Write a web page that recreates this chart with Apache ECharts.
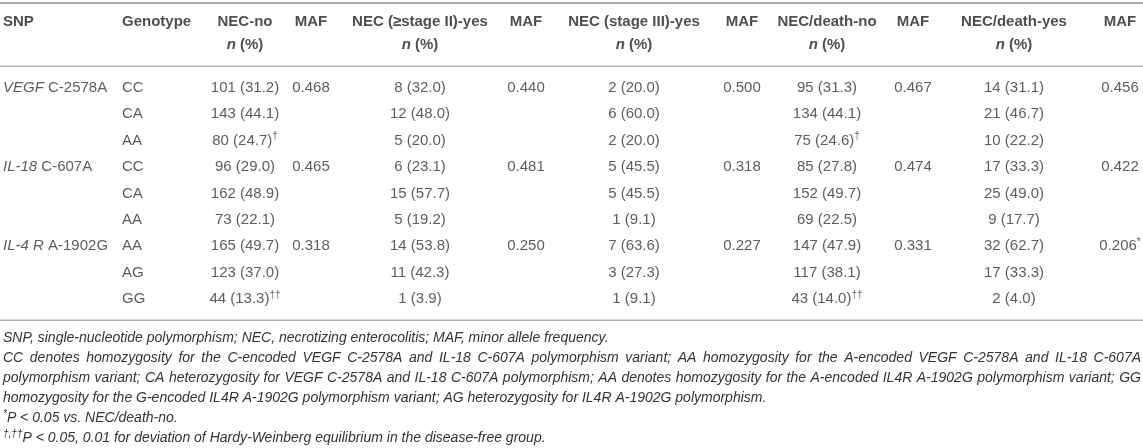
<!DOCTYPE html>
<html>
<head>
<meta charset="utf-8">
<script src="https://cdn.jsdelivr.net/npm/echarts@6/dist/echarts.min.js"></script>
<style>
html, body { margin: 0; padding: 0; background: #fff; }
#main { width: 1143px; height: 448px; }
</style>
</head>
<body>
<div id="main"></div>
<script>
var snpGenes = ['VEGF', 'IL-18', 'IL-4 R'];
var snpVariants = ['C-2578A', 'C-607A', 'A-1902G'];
var genotypes = ['CC', 'CA', 'AA', 'CC', 'CA', 'AA', 'AA', 'AG', 'GG'];

var necNoN = [101, 143, 80, 96, 162, 73, 165, 123, 44];
var necNoPct = [31.2, 44.1, 24.7, 29.0, 48.9, 22.1, 49.7, 37.0, 13.3];
var necNoMark = ['', '', '†', '', '', '', '', '', '††'];
var stage2N = [8, 12, 5, 6, 15, 5, 14, 11, 1];
var stage2Pct = [32.0, 48.0, 20.0, 23.1, 57.7, 19.2, 53.8, 42.3, 3.9];
var stage3N = [2, 6, 2, 5, 5, 1, 7, 3, 1];
var stage3Pct = [20.0, 60.0, 20.0, 45.5, 45.5, 9.1, 63.6, 27.3, 9.1];
var deathNoN = [95, 134, 75, 85, 152, 69, 147, 117, 43];
var deathNoPct = [31.3, 44.1, 24.6, 27.8, 49.7, 22.5, 47.9, 38.1, 14.0];
var deathNoMark = ['', '', '†', '', '', '', '', '', '††'];
var deathYesN = [14, 21, 10, 17, 25, 9, 32, 17, 2];
var deathYesPct = [31.1, 46.7, 22.2, 33.3, 49.0, 17.7, 62.7, 33.3, 4.0];

var mafNecNo = [0.468, 0.465, 0.318];
var mafStage2 = [0.440, 0.481, 0.250];
var mafStage3 = [0.500, 0.318, 0.227];
var mafDeathNo = [0.467, 0.474, 0.331];
var mafDeathYes = [0.456, 0.422, 0.206];
var mafDeathYesMark = ['', '', '*'];

var headTop = ['SNP', 'Genotype', 'NEC-no', 'MAF', 'NEC (≥stage II)-yes', 'MAF',
    'NEC (stage III)-yes', 'MAF', 'NEC/death-no', 'MAF', 'NEC/death-yes', 'MAF'];
var headSub = ['', '', 'n (%)', '', 'n (%)', '', 'n (%)', '', 'n (%)', '', 'n (%)', ''];

var footnotes = [
    'SNP, single-nucleotide polymorphism; NEC, necrotizing enterocolitis; MAF, minor allele frequency.',
    'CC denotes homozygosity for the C-encoded VEGF C-2578A and IL-18 C-607A polymorphism variant; AA homozygosity for the A-encoded VEGF C-2578A and IL-18 C-607A',
    'polymorphism variant; CA heterozygosity for VEGF C-2578A and IL-18 C-607A polymorphism; AA denotes homozygosity for the A-encoded IL4R A-1902G polymorphism variant; GG',
    'homozygosity for the G-encoded IL4R A-1902G polymorphism variant; AG heterozygosity for IL4R A-1902G polymorphism.',
    '{s|*}P < 0.05 vs. NEC/death-no.',
    '{s|†,††}P < 0.05, 0.01 for deviation of Hardy-Weinberg equilibrium in the disease-free group.'
];
var justifiedLines = [false, true, true, false, false, false];

// layout
var W = 1143;
var colX = [3, 122, 245, 311, 420, 526, 634, 742, 827, 913, 1014, 1120];
var colAlign = ['left', 'left', 'center', 'center', 'center', 'center', 'center', 'center', 'center', 'center', 'center', 'center'];
var FONT = '"Liberation Sans", Arial, sans-serif';
var bodyColor = '#333';
var headColor = '#222';
var snpRows = [0, 3, 6];

function cell(n, pct, mark) {
    return n + ' (' + pct.toFixed(1) + ')' + (mark ? '{s|' + mark + '}' : '');
}

function countCol(ns, pcts, marks) {
    return ns.map(function (n, i) {
        return { row: i, text: cell(n, pcts[i], marks ? marks[i] : '') };
    });
}

function mafCol(vals, marks) {
    return vals.map(function (v, i) {
        return { row: snpRows[i], text: v.toFixed(3) + (marks && marks[i] ? '{s|' + marks[i] + '}' : '') };
    });
}

var bodyCols = [
    snpGenes.map(function (g, i) { return { row: snpRows[i], text: '{i|' + g + '} ' + snpVariants[i] }; }),
    genotypes.map(function (g, i) { return { row: i, text: g }; }),
    countCol(necNoN, necNoPct, necNoMark),
    mafCol(mafNecNo),
    countCol(stage2N, stage2Pct),
    mafCol(mafStage2),
    countCol(stage3N, stage3Pct),
    mafCol(mafStage3),
    countCol(deathNoN, deathNoPct, deathNoMark),
    mafCol(mafDeathNo),
    countCol(deathYesN, deathYesPct),
    mafCol(mafDeathYes, mafDeathYesMark)
];

function richFor(weight, color) {
    return {
        i: { fontStyle: 'italic', fontWeight: weight, fontSize: 15, fontFamily: FONT, color: color },
        s: { fontSize: 10, fontFamily: FONT, color: color, verticalAlign: 'top', padding: [0, 0, 8, 0] }
    };
}

function labelFor(c, weight, color) {
    return {
        show: true,
        position: colAlign[c] === 'left' ? 'right' : 'inside',
        distance: 0,
        color: color,
        fontSize: 15,
        fontWeight: weight,
        fontFamily: FONT,
        formatter: function (p) { return p.data.text; },
        rich: richFor(weight, color)
    };
}

var series = [];
headTop.forEach(function (h, c) {
    var items = [{ value: [colX[c], 0], text: h }];
    if (headSub[c]) {
        items.push({ value: [colX[c], 1], text: headSub[c].replace('n', '{i|n}') });
    }
    series.push({
        type: 'scatter', xAxisIndex: 0, yAxisIndex: 0, symbolSize: 0, silent: true,
        data: items, label: labelFor(c, 'bold', headColor)
    });
});
bodyCols.forEach(function (col, c) {
    series.push({
        type: 'scatter', xAxisIndex: 1, yAxisIndex: 1, symbolSize: 0, silent: true,
        data: col.map(function (d) { return { value: [colX[c], d.row], text: d.text }; }),
        label: labelFor(c, 'normal', bodyColor)
    });
});

// footnotes, with the middle lines justified to the full width
var footFont = 'italic 14px ' + FONT;
var measure = document.createElement('canvas').getContext('2d');
measure.font = footFont;
var footTop = 338, footStep = 20;
var graphics = [
    { type: 'rect', shape: { x: 0, y: 2, width: W, height: 2 }, style: { fill: '#a9a9a9' } },
    { type: 'rect', shape: { x: 0, y: 65.5, width: W, height: 1.5 }, style: { fill: '#b3b3b3' } },
    { type: 'rect', shape: { x: 0, y: 319.5, width: W, height: 1.5 }, style: { fill: '#b3b3b3' } }
];
footnotes.forEach(function (line, k) {
    var y = footTop + k * footStep;
    if (justifiedLines[k]) {
        var words = line.split(' ');
        var widths = words.map(function (w) { return measure.measureText(w).width; });
        var total = widths.reduce(function (a, b) { return a + b; }, 0);
        var gap = (W - 5 - total) / (words.length - 1);
        var x = 3;
        words.forEach(function (w, j) {
            graphics.push({ type: 'text', x: x, y: y, silent: true,
                style: { text: w, font: footFont, fill: bodyColor, align: 'left', verticalAlign: 'middle' } });
            x += widths[j] + gap;
        });
    } else {
        graphics.push({ type: 'text', x: 3, y: y, silent: true,
            style: { text: line, font: footFont, fill: bodyColor, align: 'left', verticalAlign: 'middle',
                rich: { s: { fontSize: 10, fontStyle: 'italic', fontFamily: FONT, fill: bodyColor, verticalAlign: 'top', padding: [0, 0, 7, 0] } } } });
    }
});

var myChart = echarts.init(document.getElementById('main'), null, { renderer: 'canvas' });

var option = {
    animation: false,
    backgroundColor: '#fff',
    grid: [
        { left: 0, right: 0, top: 10.5, height: 46 },
        { left: 0, right: 0, top: 74.8, height: 237.2 }
    ],
    xAxis: [
        { gridIndex: 0, type: 'value', min: 0, max: W, show: false },
        { gridIndex: 1, type: 'value', min: 0, max: W, show: false }
    ],
    yAxis: [
        { gridIndex: 0, type: 'category', inverse: true, data: ['head', 'sub'], show: false },
        { gridIndex: 1, type: 'category', inverse: true, data: genotypes.map(function (g, i) { return 'r' + i; }), show: false }
    ],
    graphic: graphics,
    series: series
};

myChart.setOption(option);
</script>
</body>
</html>
